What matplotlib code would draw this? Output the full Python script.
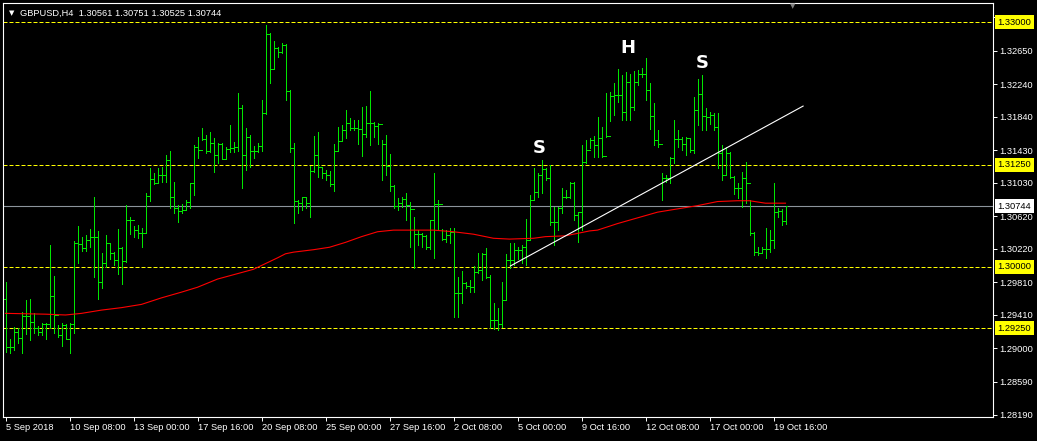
import matplotlib.pyplot as plt
from matplotlib.collections import LineCollection
from matplotlib.transforms import blended_transform_factory

# GBPUSD H4 bars
symbol_info = "GBPUSD,H4  1.30561 1.30751 1.30525 1.30744"
first_open = 1.2960
last_open = 1.30561

highs = [
    1.2981, 1.2912, 1.2926, 1.2925, 1.2945, 1.2959, 1.2961, 1.2943, 1.2928, 1.2931,
    1.2931, 1.3027, 1.2989, 1.2929, 1.2931, 1.2930, 1.2931, 1.3032, 1.3050, 1.3037,
    1.3039, 1.3046, 1.3086, 1.3044, 1.3017, 1.3039, 1.3029, 1.3018, 1.3046, 1.3024,
    1.3076, 1.3061, 1.3050, 1.3051, 1.3048, 1.3091, 1.3121, 1.3115, 1.3121, 1.3122,
    1.3137, 1.3142, 1.3104, 1.3076, 1.3077, 1.3082, 1.3103, 1.3149, 1.3159, 1.3170,
    1.3162, 1.3165, 1.3158, 1.3152, 1.3152, 1.3147, 1.3174, 1.3153, 1.3213, 1.3198,
    1.3170, 1.3162, 1.3148, 1.3152, 1.3205, 1.3296, 1.3287, 1.3277, 1.3269, 1.3274,
    1.3273, 1.3217, 1.3152, 1.3082, 1.3086, 1.3086, 1.3124, 1.3160, 1.3165, 1.3122,
    1.3119, 1.3117, 1.3151, 1.3171, 1.3174, 1.3192, 1.3182, 1.3180, 1.3180, 1.3196,
    1.3197, 1.3215, 1.3177, 1.3176, 1.3155, 1.3162, 1.3138, 1.3100, 1.3084, 1.3085,
    1.3091, 1.3079, 1.3061, 1.3045, 1.3042, 1.3039, 1.3057, 1.3115, 1.3082, 1.3046,
    1.3045, 1.3048, 1.3048, 1.2988, 1.2995, 1.2981, 1.2984, 1.3001, 1.3017, 1.3017,
    1.3023, 1.2990, 1.2956, 1.2950, 1.2981, 1.3016, 1.3029, 1.3029, 1.3024, 1.3027,
    1.3059, 1.3088, 1.3121, 1.3115, 1.3131, 1.3121, 1.3125, 1.3073, 1.3073, 1.3097,
    1.3094, 1.3104, 1.3104, 1.3067, 1.3149, 1.3155, 1.3158, 1.3160, 1.3184, 1.3171,
    1.3213, 1.3214, 1.3225, 1.3242, 1.3235, 1.3239, 1.3236, 1.3240, 1.3241, 1.3244,
    1.3256, 1.3225, 1.3201, 1.3168, 1.3115, 1.3113, 1.3135, 1.3180, 1.3168, 1.3159,
    1.3159, 1.3158, 1.3208, 1.3230, 1.3235, 1.3195, 1.3190, 1.3189, 1.3189, 1.3149,
    1.3147, 1.3141, 1.3111, 1.3103, 1.3116, 1.3129, 1.3082, 1.3043, 1.3024, 1.3024,
    1.3048, 1.3045, 1.3103, 1.3072, 1.3071, 1.30751,
]
lows = [
    1.2896, 1.2894, 1.2898, 1.2907, 1.2894, 1.2918, 1.2910, 1.2919, 1.2916, 1.2916,
    1.2912, 1.2925, 1.2919, 1.2914, 1.2903, 1.2912, 1.2894, 1.2919, 1.3005, 1.3019,
    1.3019, 1.3024, 1.2988, 1.2961, 1.2974, 1.3000, 1.3010, 1.3002, 1.2991, 1.2979,
    1.3006, 1.3040, 1.3037, 1.3035, 1.3024, 1.3042, 1.3081, 1.3102, 1.3104, 1.3104,
    1.3104, 1.3072, 1.3066, 1.3055, 1.3066, 1.3071, 1.3072, 1.3088, 1.3133, 1.3155,
    1.3140, 1.3141, 1.3116, 1.3127, 1.3132, 1.3133, 1.3141, 1.3141, 1.3142, 1.3097,
    1.3119, 1.3122, 1.3133, 1.3141, 1.3142, 1.3187, 1.3225, 1.3242, 1.3257, 1.3262,
    1.3205, 1.3141, 1.3054, 1.3066, 1.3070, 1.3072, 1.3061, 1.3116, 1.3110, 1.3109,
    1.3106, 1.3099, 1.3093, 1.3142, 1.3155, 1.3158, 1.3168, 1.3168, 1.3151, 1.3136,
    1.3159, 1.3149, 1.3159, 1.3151, 1.3106, 1.3113, 1.3093, 1.3072, 1.3070, 1.3073,
    1.3057, 1.3024, 1.2999, 1.3027, 1.3024, 1.3022, 1.3022, 1.3011, 1.3046, 1.3033,
    1.3030, 1.3029, 1.2939, 1.2939, 1.2956, 1.2974, 1.2969, 1.2969, 1.2993, 1.2984,
    1.2986, 1.2925, 1.2924, 1.2923, 1.2926, 1.2959, 1.2999, 1.3002, 1.3010, 1.3005,
    1.3002, 1.3033, 1.3082, 1.3086, 1.3091, 1.3106, 1.3051, 1.3027, 1.3045, 1.3066,
    1.3084, 1.3084, 1.3057, 1.3030, 1.3045, 1.3127, 1.3146, 1.3135, 1.3135, 1.3135,
    1.3159, 1.3179, 1.3186, 1.3202, 1.3180, 1.3180, 1.3180, 1.3192, 1.3223, 1.3233,
    1.3205, 1.3169, 1.3149, 1.3147, 1.3082, 1.3104, 1.3103, 1.3127, 1.3147, 1.3143,
    1.3137, 1.3141, 1.3140, 1.3174, 1.3168, 1.3168, 1.3175, 1.3168, 1.3121, 1.3106,
    1.3113, 1.3109, 1.3089, 1.3084, 1.3073, 1.3078, 1.3039, 1.3015, 1.3015, 1.3017,
    1.3011, 1.3018, 1.3023, 1.3061, 1.3051, 1.30525,
]
closes = [
    1.2902, 1.2902, 1.2920, 1.2913, 1.2940, 1.2940, 1.2932, 1.2925, 1.2920, 1.2930,
    1.2930, 1.2964, 1.2941, 1.2917, 1.2929, 1.2912, 1.2930, 1.3029, 1.3028, 1.3023,
    1.3033, 1.3037, 1.3037, 1.2981, 1.3005, 1.3029, 1.3017, 1.3008, 1.3023, 1.3007,
    1.3057, 1.3057, 1.3045, 1.3042, 1.3042, 1.3087, 1.3108, 1.3103, 1.3113, 1.3113,
    1.3131, 1.3086, 1.3072, 1.3068, 1.3070, 1.3079, 1.3103, 1.3147, 1.3143, 1.3157,
    1.3142, 1.3152, 1.3137, 1.3151, 1.3132, 1.3144, 1.3146, 1.3147, 1.3195, 1.3137,
    1.3159, 1.3142, 1.3142, 1.3148, 1.3189, 1.3285, 1.3242, 1.3268, 1.3263, 1.3272,
    1.3215, 1.3146, 1.3081, 1.3078, 1.3086, 1.3078, 1.3117, 1.3137, 1.3122, 1.3115,
    1.3113, 1.3102, 1.3142, 1.3154, 1.3168, 1.3176, 1.3170, 1.3170, 1.3169, 1.3163,
    1.3176, 1.3176, 1.3173, 1.3175, 1.3151, 1.3124, 1.3099, 1.3075, 1.3078, 1.3083,
    1.3076, 1.3071, 1.3040, 1.3040, 1.3038, 1.3024, 1.3057, 1.3077, 1.3077, 1.3034,
    1.3039, 1.3043, 1.2968, 1.2968, 1.2980, 1.2977, 1.2975, 1.2994, 1.2996, 1.3016,
    1.2988, 1.2935, 1.2935, 1.2930, 1.2959, 1.3008, 1.3008, 1.3021, 1.3021, 1.3024,
    1.3033, 1.3082, 1.3092, 1.3113, 1.3120, 1.3109, 1.3055, 1.3055, 1.3072, 1.3086,
    1.3086, 1.3103, 1.3064, 1.3067, 1.3129, 1.3143, 1.3155, 1.3149, 1.3158, 1.3136,
    1.3160, 1.3209, 1.3211, 1.3211, 1.3190, 1.3227, 1.3196, 1.3227, 1.3236, 1.3236,
    1.3217, 1.3185, 1.3155, 1.3151, 1.3109, 1.3109, 1.3133, 1.3157, 1.3157, 1.3151,
    1.3158, 1.3143, 1.3192, 1.3212, 1.3185, 1.3184, 1.3186, 1.3171, 1.3140, 1.3113,
    1.3140, 1.3110, 1.3097, 1.3097, 1.3109, 1.3103, 1.3042, 1.3018, 1.3017, 1.3022,
    1.3022, 1.3033, 1.3067, 1.3068, 1.3056, 1.30744,
]

# moving average (red), sampled at bar numbers
ma_index = [0, 10, 15, 19, 24, 29, 34, 39, 44, 48, 53, 62, 68, 70, 72, 77, 81, 85, 89,
            93, 97, 102, 107, 112, 117, 122, 126, 132, 135, 140, 143, 146, 148, 153,
            158, 163, 168, 173, 178, 183, 186, 190, 195]
ma_value = [1.2943, 1.2942, 1.2941, 1.2943, 1.2947, 1.2950, 1.2954, 1.2962, 1.2969,
            1.2975, 1.2985, 1.2997, 1.3011, 1.3016, 1.3018, 1.3021, 1.3024, 1.3030,
            1.3037, 1.3043, 1.3045, 1.3045, 1.3045, 1.3043, 1.3040, 1.3035, 1.3034,
            1.3035, 1.3037, 1.3038, 1.3041, 1.3044, 1.3045, 1.3053, 1.3060, 1.3067,
            1.3071, 1.3075, 1.3080, 1.3081, 1.3081, 1.3078, 1.3078]

# neckline drawn by hand
trend_index = [126.2, 199.4]
trend_value = [1.3001, 1.3197]

levels = [1.33000, 1.31250, 1.30000, 1.29250]
bid = 1.30744
price_ticks = [1.33060, 1.32650, 1.32240, 1.31840, 1.31430, 1.31030, 1.30620,
               1.30220, 1.29810, 1.29410, 1.29000, 1.28590, 1.28190]
date_ticks = [0, 16, 32, 48, 64, 80, 96, 112, 128, 144, 160, 176, 192]
date_labels = ["5 Sep 2018", "10 Sep 08:00", "13 Sep 00:00", "17 Sep 16:00",
               "20 Sep 08:00", "25 Sep 00:00", "27 Sep 16:00", "2 Oct 08:00",
               "5 Oct 00:00", "9 Oct 16:00", "12 Oct 08:00", "17 Oct 00:00",
               "19 Oct 16:00"]
pattern_text = ["S", "H", "S"]
pattern_at = [(133.4, 1.3146), (155.7, 1.3268), (174.2, 1.3250)]

opens = [first_open] + closes[:-1]
opens[-1] = last_open

plt.rcParams["font.family"] = ["Liberation Sans", "DejaVu Sans"]
FS = 6.7
GREEN = "#00e600"

fig = plt.figure(figsize=(10.37, 4.41), dpi=100, facecolor="black")
# 4 px per bar, bars sitting on pixel centres
ax = fig.add_axes([3 / 1037, 24 / 441, 989.5 / 1037, 414 / 441], facecolor="black")

segs = []
for i, (o, h, l, c) in enumerate(zip(opens, highs, lows, closes)):
    segs.append([(i, l), (i, h)])
    segs.append([(i - 0.4, o), (i, o)])
    segs.append([(i, c), (i + 0.4, c)])
ax.add_collection(LineCollection(segs, colors=GREEN, linewidths=0.72,
                                 antialiased=False, capstyle="butt"))

for lv in levels:
    ax.axhline(lv, color="#ffff00", lw=0.72, ls=(0, (4, 2)), zorder=1)
ax.axhline(bid, color="#8c949c", lw=0.8, zorder=1)

ax.plot(ma_index, ma_value, color="#ff0000", lw=0.8, zorder=2)
ax.plot(trend_index, trend_value, color="white", lw=0.8, zorder=3)

for txt, (xi, yv) in zip(pattern_text, pattern_at):
    ax.text(xi, yv, txt, color="white", fontsize=13, fontweight="bold",
            ha="center", va="center", family="DejaVu Sans")

ax.set_xlim(-0.625, 246.75)
ax.set_ylim(1.28160, 1.33233)

for sp in ax.spines.values():
    sp.set_color("white")
    sp.set_linewidth(0.8)

ax.yaxis.tick_right()
ax.set_yticks(price_ticks)
ax.set_yticklabels([f"{p:.5f}" for p in price_ticks])
ax.tick_params(axis="y", colors="white", labelsize=FS, length=3, width=0.7, pad=2)
ax.set_xticks(date_ticks)
ax.set_xticklabels(date_labels, ha="left")
ax.tick_params(axis="x", colors="white", labelsize=FS, length=3, width=0.7, pad=1.5)

blend = blended_transform_factory(ax.transAxes, ax.transData)
for lv in levels:
    ax.annotate(f"{lv:.5f}", xy=(1, lv), xycoords=blend, xytext=(5, 0),
                textcoords="offset pixels", ha="left", va="center", fontsize=FS,
                color="black", annotation_clip=False,
                bbox=dict(boxstyle="square,pad=0.3", fc="#ffff00", ec="none"))
ax.annotate(f"{bid:.5f}", xy=(1, bid), xycoords=blend, xytext=(5, 0),
            textcoords="offset pixels", ha="left", va="center", fontsize=FS,
            color="black", annotation_clip=False,
            bbox=dict(boxstyle="square,pad=0.3", fc="white", ec="none"))

fig.text(9 / 1037, 1 - 13 / 441, "\u25bc", color="white", fontsize=5,
         ha="left", va="center", family="DejaVu Sans")
fig.text(20 / 1037, 1 - 13 / 441, symbol_info, color="white", fontsize=FS,
         ha="left", va="center")
fig.text(793 / 1037, 1 - 6 / 441, "\u25bc", color="#808080", fontsize=5,
         ha="center", va="center", family="DejaVu Sans")

fig.savefig("out.png", dpi=100, facecolor="black")
